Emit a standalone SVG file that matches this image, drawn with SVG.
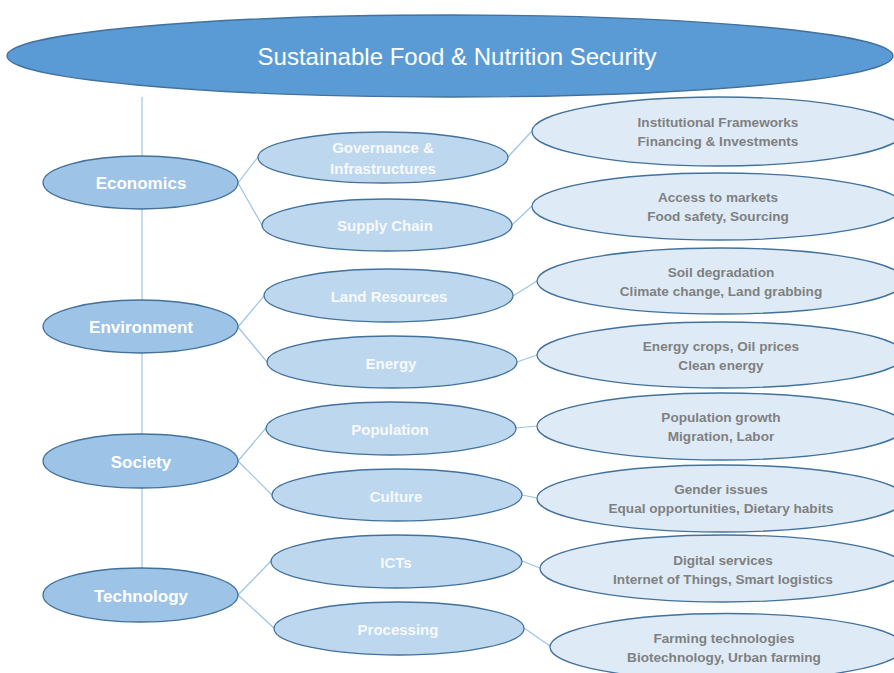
<svg xmlns="http://www.w3.org/2000/svg" width="894" height="673" viewBox="0 0 894 673">
  <style>
    .root { fill: #5b9bd5; stroke: #41719c; stroke-width: 1.3; }
    .l1 { fill: #9dc3e6; stroke: #41719c; stroke-width: 1.3; }
    .l2 { fill: #bdd7ee; stroke: #41719c; stroke-width: 1.3; }
    .l3 { fill: #deebf7; stroke: #41719c; stroke-width: 1.3; }
    .conn line { stroke: #9dc3e6; stroke-width: 1.2; }
    text { font-family: "Liberation Sans", Arial, sans-serif; text-anchor: middle; dominant-baseline: central; }
    .t0 { fill: #ffffff; font-size: 24px; }
    .t1 { fill: #ffffff; font-size: 17px; font-weight: bold; }
    .t2 { fill: #f7f9fc; font-size: 15px; font-weight: bold; }
    .t3 { fill: #808080; font-size: 13.6px; font-weight: bold; }
  </style>

  <!-- connectors -->
  <g id="connectors" class="conn">
    <line x1="142" y1="97" x2="142" y2="568"/>
    <line x1="238" y1="183" x2="258" y2="157"/>
    <line x1="238" y1="183" x2="262" y2="225"/>
    <line x1="238" y1="327" x2="264" y2="296"/>
    <line x1="238" y1="327" x2="267" y2="362"/>
    <line x1="238" y1="461" x2="266" y2="428"/>
    <line x1="238" y1="461" x2="272" y2="495"/>
    <line x1="238" y1="595" x2="271" y2="561"/>
    <line x1="238" y1="595" x2="274" y2="628"/>
    <line x1="508" y1="157" x2="532" y2="131"/>
    <line x1="512" y1="225" x2="532" y2="206"/>
    <line x1="513" y1="296" x2="537" y2="281"/>
    <line x1="517" y1="362" x2="537" y2="355"/>
    <line x1="516" y1="428" x2="537" y2="426"/>
    <line x1="522" y1="495" x2="537" y2="498"/>
    <line x1="522" y1="561" x2="540" y2="568"/>
    <line x1="524" y1="628" x2="550" y2="646"/>
  </g>

  <!-- root -->
  <g id="root">
    <ellipse class="root" cx="450" cy="56" rx="443" ry="41"/>
    <text class="t0" x="457" y="56">Sustainable Food &amp; Nutrition Security</text>
  </g>

  <!-- first level -->
  <g id="economics">
    <ellipse class="l1" cx="140.5" cy="182.5" rx="97.5" ry="26.5"/>
    <text class="t1" x="141" y="183">Economics</text>
  </g>
  <g id="environment">
    <ellipse class="l1" cx="140.5" cy="326.5" rx="97.5" ry="26.5"/>
    <text class="t1" x="141" y="327">Environment</text>
  </g>
  <g id="society">
    <ellipse class="l1" cx="140.5" cy="461" rx="97.5" ry="27"/>
    <text class="t1" x="141" y="462">Society</text>
  </g>
  <g id="technology">
    <ellipse class="l1" cx="140.5" cy="595" rx="97.5" ry="27"/>
    <text class="t1" x="141" y="596">Technology</text>
  </g>

  <!-- second level -->
  <g id="governance">
    <ellipse class="l2" cx="383" cy="157.5" rx="125" ry="25.5"/>
    <text class="t2" x="383" y="147">Governance &amp;</text>
    <text class="t2" x="383" y="168">Infrastructures</text>
  </g>
  <g id="supply-chain">
    <ellipse class="l2" cx="387" cy="225" rx="125" ry="26"/>
    <text class="t2" x="385" y="225">Supply Chain</text>
  </g>
  <g id="land-resources">
    <ellipse class="l2" cx="388.5" cy="295.5" rx="124.5" ry="26.5"/>
    <text class="t2" x="389" y="296">Land Resources</text>
  </g>
  <g id="energy">
    <ellipse class="l2" cx="392" cy="362" rx="125" ry="26"/>
    <text class="t2" x="391" y="363">Energy</text>
  </g>
  <g id="population">
    <ellipse class="l2" cx="391" cy="428.5" rx="125" ry="26.5"/>
    <text class="t2" x="390" y="429">Population</text>
  </g>
  <g id="culture">
    <ellipse class="l2" cx="397" cy="495" rx="125" ry="26"/>
    <text class="t2" x="396" y="496">Culture</text>
  </g>
  <g id="icts">
    <ellipse class="l2" cx="396.5" cy="561.5" rx="125.5" ry="26.5"/>
    <text class="t2" x="396" y="562">ICTs</text>
  </g>
  <g id="processing">
    <ellipse class="l2" cx="399" cy="628.5" rx="125" ry="26.5"/>
    <text class="t2" x="398" y="629">Processing</text>
  </g>

  <!-- third level -->
  <g id="institutional">
    <ellipse class="l3" cx="718" cy="131.5" rx="186" ry="34.5"/>
    <text class="t3" x="718" y="122">Institutional Frameworks</text>
    <text class="t3" x="718" y="141">Financing &amp; Investments</text>
  </g>
  <g id="markets">
    <ellipse class="l3" cx="718" cy="206.5" rx="186" ry="33.5"/>
    <text class="t3" x="718" y="197">Access to markets</text>
    <text class="t3" x="718" y="216">Food safety, Sourcing</text>
  </g>
  <g id="soil">
    <ellipse class="l3" cx="721" cy="281" rx="184" ry="33"/>
    <text class="t3" x="721" y="272">Soil degradation</text>
    <text class="t3" x="721" y="291">Climate change, Land grabbing</text>
  </g>
  <g id="energy-crops">
    <ellipse class="l3" cx="721" cy="355" rx="184" ry="33"/>
    <text class="t3" x="721" y="346">Energy crops, Oil prices</text>
    <text class="t3" x="721" y="365">Clean energy</text>
  </g>
  <g id="growth">
    <ellipse class="l3" cx="721" cy="426.5" rx="184" ry="33.5"/>
    <text class="t3" x="721" y="417">Population growth</text>
    <text class="t3" x="721" y="436">Migration, Labor</text>
  </g>
  <g id="gender">
    <ellipse class="l3" cx="721" cy="498.5" rx="184" ry="33.5"/>
    <text class="t3" x="721" y="489">Gender issues</text>
    <text class="t3" x="721" y="508">Equal opportunities, Dietary habits</text>
  </g>
  <g id="digital">
    <ellipse class="l3" cx="723" cy="568.5" rx="183" ry="33.5"/>
    <text class="t3" x="723" y="560">Digital services</text>
    <text class="t3" x="723" y="579">Internet of Things, Smart logistics</text>
  </g>
  <g id="farming">
    <ellipse class="l3" cx="727" cy="647" rx="177" ry="33.5"/>
    <text class="t3" x="724" y="638">Farming technologies</text>
    <text class="t3" x="724" y="657">Biotechnology, Urban farming</text>
  </g>
</svg>
